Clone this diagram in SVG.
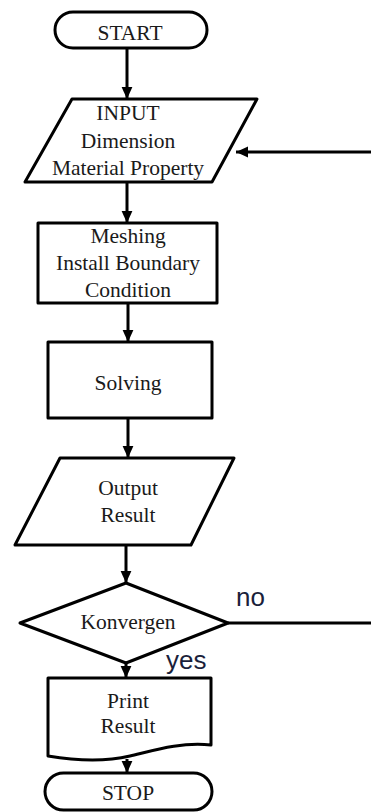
<svg xmlns="http://www.w3.org/2000/svg" width="371" height="812" viewBox="0 0 371 812">
<style>
.s{fill:#fff;stroke:#000;stroke-width:3;stroke-linejoin:round}
.t{font-family:'Liberation Serif',Tinos,'Times New Roman','DejaVu Serif',serif;font-size:21.5px;fill:#1a1a1a;text-anchor:middle}
.l{font-family:'Liberation Sans',Arial,sans-serif;font-size:26px;fill:#1b1f3b}
.c{stroke:#000;stroke-width:3;fill:none}
</style>
<defs>
<marker id="a" markerUnits="userSpaceOnUse" markerWidth="12" markerHeight="12" viewBox="0 0 10 10" refX="10" refY="5" orient="auto">
<path d="M0,0.5 L10,5 L0,9.5 Z" fill="#000"/>
</marker>
</defs>
<g id="connectors">
<line class="c" x1="127" y1="48" x2="127" y2="99" marker-end="url(#a)"/>
<line class="c" x1="127" y1="182" x2="127" y2="223" marker-end="url(#a)"/>
<line class="c" x1="128" y1="303" x2="128" y2="342" marker-end="url(#a)"/>
<line class="c" x1="128" y1="418" x2="128" y2="458" marker-end="url(#a)"/>
<line class="c" x1="126" y1="545" x2="126" y2="583" marker-end="url(#a)"/>
<line class="c" x1="126" y1="663" x2="126" y2="678" marker-end="url(#a)"/>
<line class="c" x1="127" y1="759" x2="127" y2="773" marker-end="url(#a)"/>
<line class="c" x1="228" y1="623" x2="371" y2="623"/>
<line class="c" x1="371" y1="152" x2="236" y2="152" marker-end="url(#a)"/>
<text class="l" x="236" y="606">no</text>
<text class="l" x="166" y="669">yes</text>
</g>
<g id="start">
<rect class="s" x="55" y="12" width="152" height="36" rx="18"/>
<text class="t" x="130" y="40">START</text>
</g>
<g id="input">
<polygon class="s" points="72,99 257,99 212,182 25,182"/>
<text class="t" x="128" y="120">INPUT</text>
<text class="t" x="128" y="148">Dimension</text>
<text class="t" x="128" y="175">Material Property</text>
</g>
<g id="meshing">
<rect class="s" x="38" y="223" width="179" height="80"/>
<text class="t" x="128" y="243">Meshing</text>
<text class="t" x="128" y="270">Install Boundary</text>
<text class="t" x="128" y="297">Condition</text>
</g>
<g id="solving">
<rect class="s" x="48" y="342" width="164" height="76"/>
<text class="t" x="128" y="390">Solving</text>
</g>
<g id="output">
<polygon class="s" points="60,458 234,458 191,545 15,545"/>
<text class="t" x="128" y="495">Output</text>
<text class="t" x="128" y="522">Result</text>
</g>
<g id="konvergen">
<polygon class="s" points="126,583 228,623 126,663 20,623"/>
<text class="t" x="128" y="629">Konvergen</text>
</g>
<g id="print">
<path class="s" d="M48,678 H211 V745 C180,742 155,750 130,756 C100,763 72,760 48,756 Z"/>
<text class="t" x="128" y="708">Print</text>
<text class="t" x="128" y="733">Result</text>
</g>
<g id="stop">
<rect class="s" x="45" y="773" width="167" height="37" rx="18.5"/>
<text class="t" x="128" y="800">STOP</text>
</g>
</svg>
